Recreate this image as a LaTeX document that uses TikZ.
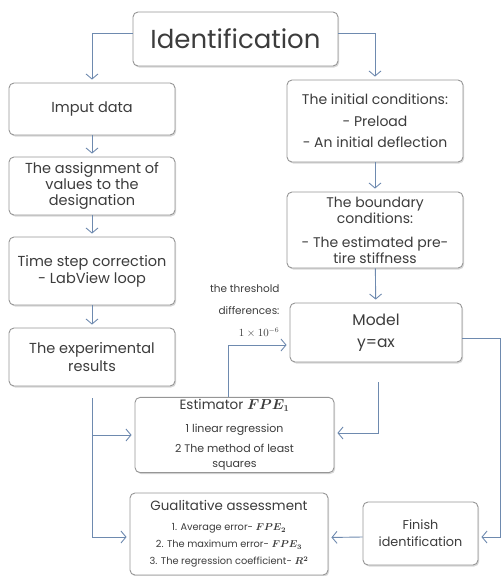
\documentclass[tikz,border=0pt]{standalone}
\usepackage{amsmath}
\usepackage{fontspec}
\setmainfont{Poppins}
\usetikzlibrary{arrows.meta}
\usetikzlibrary{shadows}
\usetikzlibrary{positioning}
\definecolor{linkblue}{RGB}{110,138,175}
\definecolor{boxgray}{RGB}{150,150,150}
\definecolor{txtgray}{RGB}{60,60,60}
\tikzset{%
  mybox/.style={rectangle, rounded corners=5pt, draw=boxgray, line width=0.9pt,
    fill=white, align=center, text=txtgray, inner sep=2pt,
    font=\fontsize{14}{16}\selectfont,
    drop shadow={opacity=0.3, shadow xshift=1.2pt, shadow yshift=-1.5pt}},
  myedge/.style={-{Straight Barb[length=5pt, width=12pt]}, draw=linkblue, line width=0.9pt, shorten >=3pt}
}

\begin{document}
\begin{tikzpicture}[x=1pt, y=-1pt]
  \useasboundingbox (0,0) rectangle (502,576);
  % top
  \node[mybox, minimum width=205, minimum height=54, font=\fontsize{26}{30}\selectfont] (ident) at (235.5,39) {Identification};
  % left column
  \node[mybox, minimum width=166, minimum height=52, font=\fontsize{14.5}{17}\selectfont] (imput) at (92,109) {Imput data};
  \node[mybox, minimum width=166, minimum height=58, font=\fontsize{14.5}{16}\selectfont] (assign) at (92,186) {The assignment of\\ values to the\\ designation};
  \node[mybox, minimum width=166, minimum height=68, font=\fontsize{14.5}{17}\selectfont] (tstep) at (92,271) {Time step correction\\ - LabView loop};
  \node[mybox, minimum width=166, minimum height=58, font=\fontsize{14.5}{18}\selectfont] (exper) at (92,357) {The experimental\\ results};
  % right column
  \node[mybox, minimum width=176, minimum height=82, font=\fontsize{14}{21.5}\selectfont] (initc) at (375,121) {The initial conditions:\\ - Preload\\ - An initial deflection};
  \node[mybox, minimum width=176, minimum height=76] (bound) at (375,230) {The boundary\\ conditions:\\[8pt] - The estimated pre-\\ tire stiffness};
  \node[mybox, minimum width=172, minimum height=59, font=\fontsize{15.5}{18}\selectfont] (model) at (376,332.5) {Model\\[4pt] y=ax};
  % bottom
  \node[mybox, minimum width=199, minimum height=74, font=\fontsize{11}{20}\selectfont] (estim) at (234.5,435) {{\fontsize{13.5}{16}\selectfont Estimator $\boldsymbol{FPE_1}$}\\[3pt] 1 linear regression\\ 2 The method of least\\[-5pt] squares};
  \node[mybox, minimum width=198, minimum height=82, font=\fontsize{9.8}{17}\selectfont] (qual) at (229,534) {{\fontsize{13.4}{16}\selectfont Gualitative assessment}\\[3pt] 1. Average error- $\boldsymbol{FPE_2}$\\ 2. The maximum error- $\boldsymbol{FPE_3}$\\ 3. The regression coefficient- $\boldsymbol{R^2}$};
  \node[mybox, minimum width=115, minimum height=63, font=\fontsize{12.8}{17}\selectfont] (finish) at (420.5,533.5) {Finish\\ identification};
  % threshold label
  \node[anchor=east, align=right, text=txtgray, font=\fontsize{10.5}{22}\selectfont] (thresh) at (283,311) {the threshold\\ differences:\\ $1\times10^{-6}$};
  % connectors
  \draw[myedge] ([yshift=6pt]ident.west) -| (imput.north);
  \draw[myedge] ([yshift=6pt]ident.east) -| (initc.north);
  \draw[myedge] (imput) -- (assign);
  \draw[myedge] (assign) -- (tstep);
  \draw[myedge] (tstep) -- (exper);
  \draw[myedge] (initc) -- (bound);
  \draw[myedge] (bound) -- (model);
  \draw[myedge, shorten <=12pt] (exper.south) |- ([yshift=-3pt]qual.west);
  \draw[myedge] (exper.south |- estim.west) -- (estim.west);
  \draw[myedge] ([xshift=-6pt]estim.north) |- ([yshift=-12.5pt]model.west);
  \draw[myedge, shorten <=20pt] ([xshift=2pt]model.south) |- ([yshift=2pt]estim.east);
  \draw[myedge] ([yshift=-6pt]model.east) -- ++(38,0) |- ([yshift=-3.5pt]finish.east);
  \draw[myedge] ([yshift=-3.5pt]finish.west) -- ([yshift=-3.5pt]qual.east);
\end{tikzpicture}
\end{document}
